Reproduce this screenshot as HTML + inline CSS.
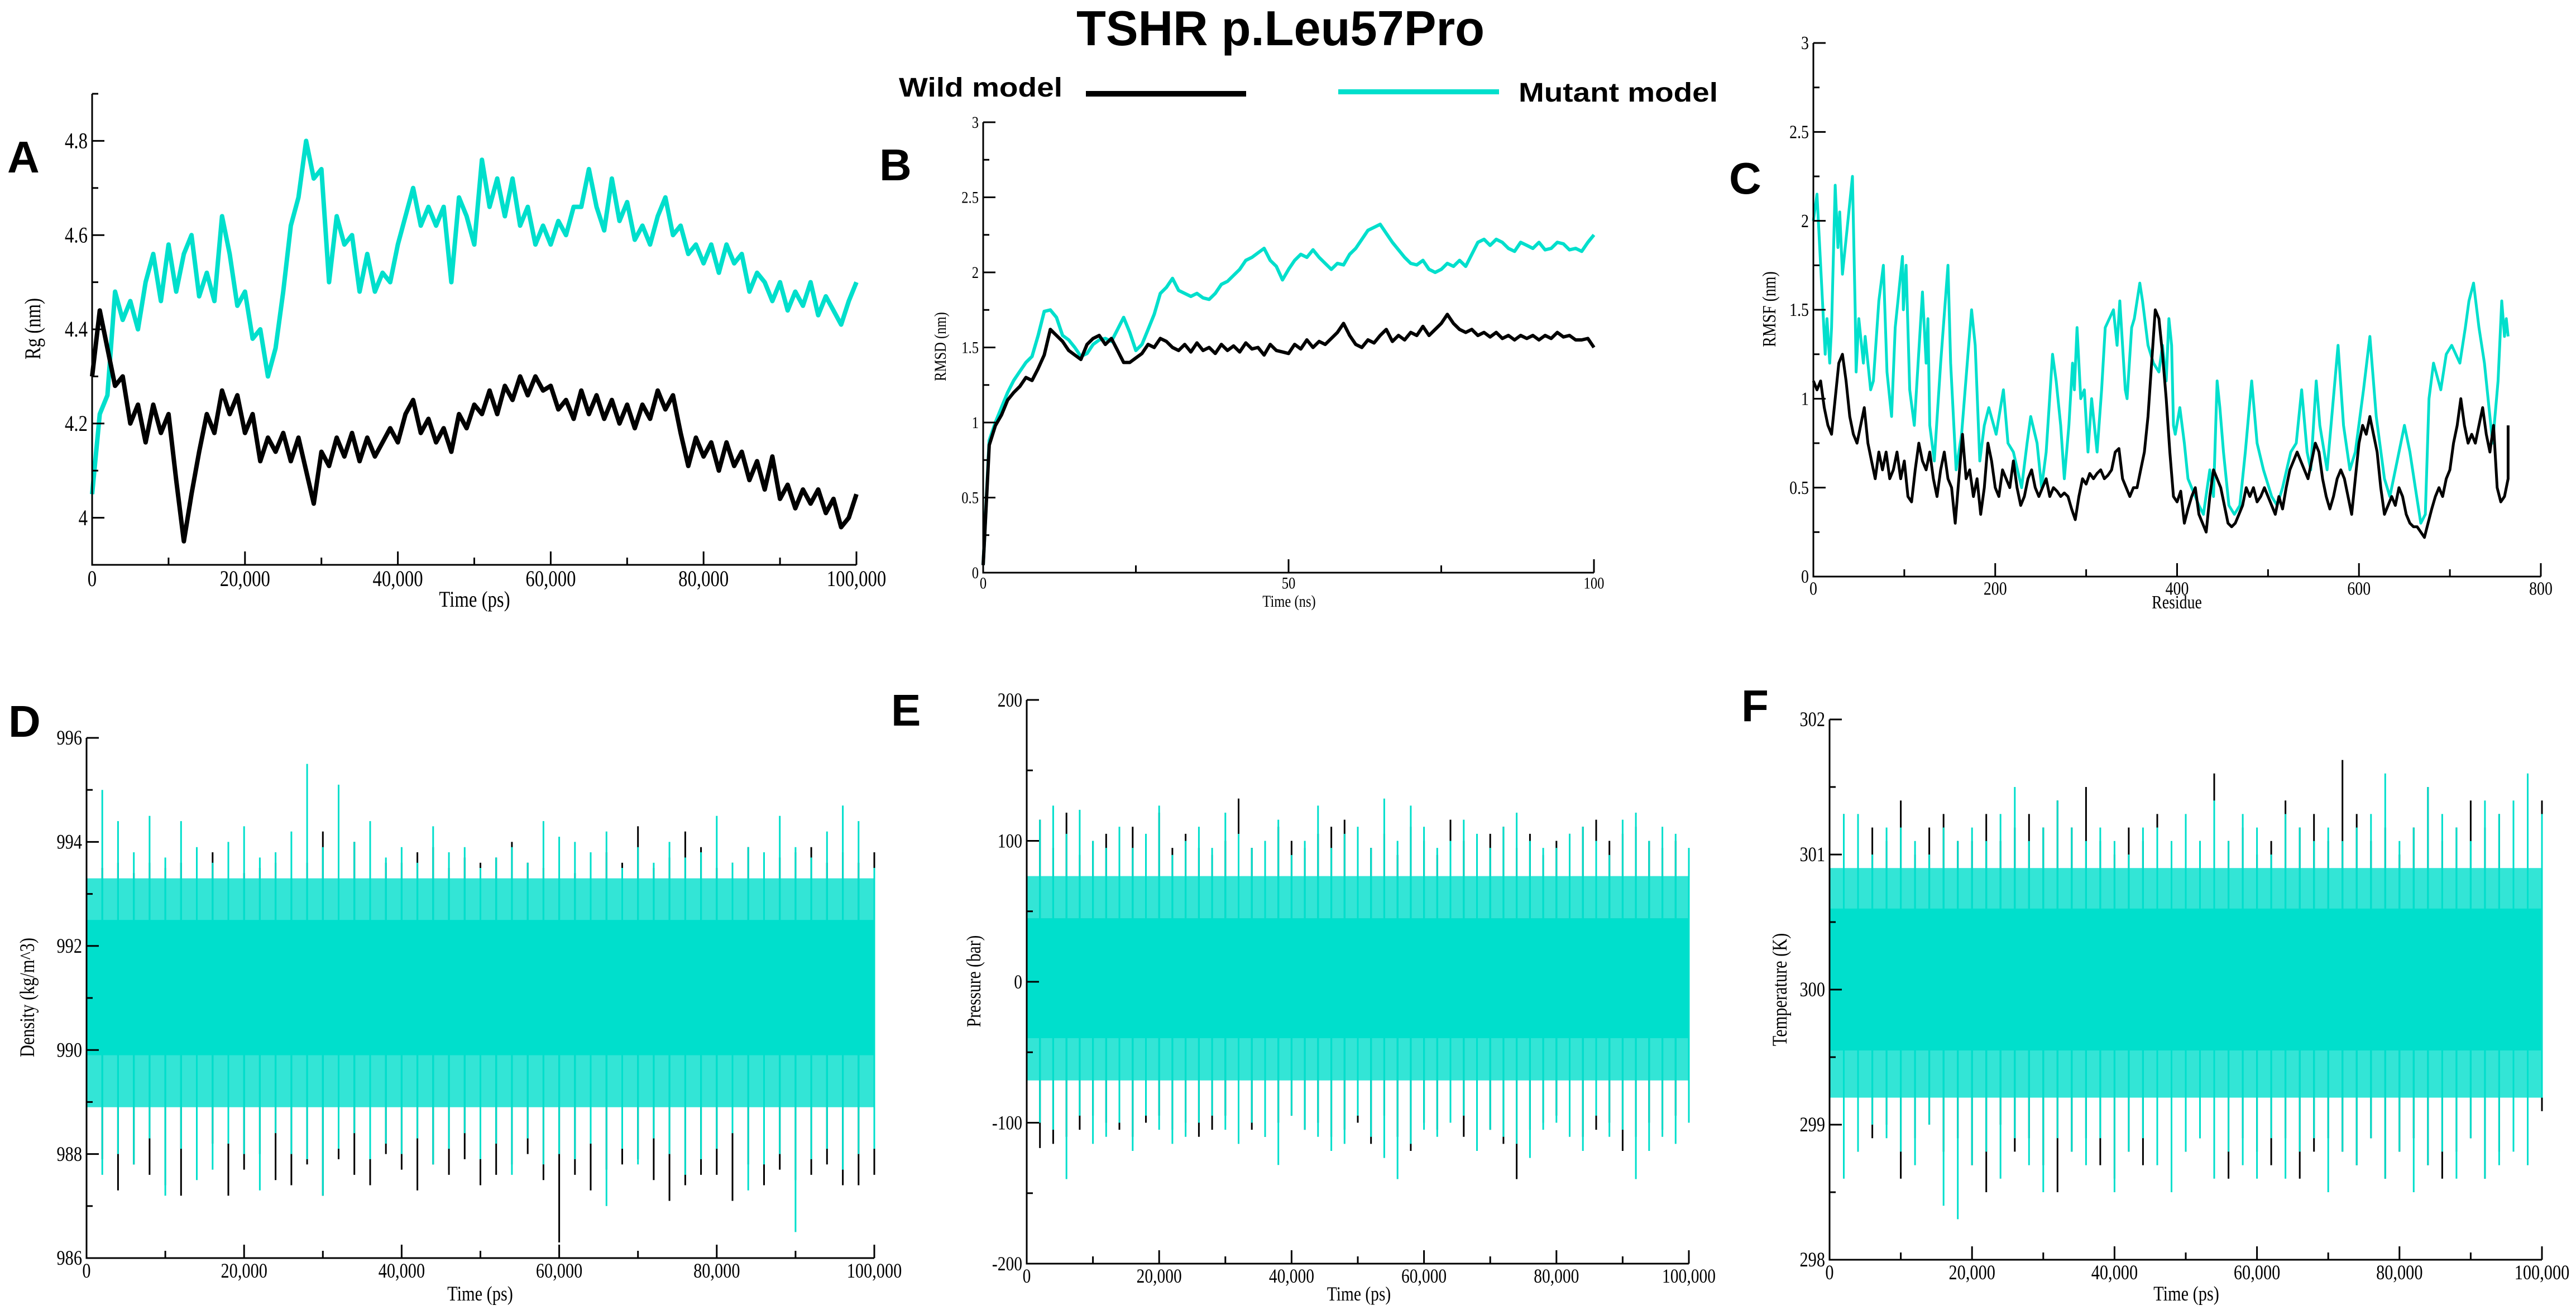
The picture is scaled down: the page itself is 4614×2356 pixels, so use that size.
<!DOCTYPE html>
<html><head><meta charset="utf-8"><title>TSHR p.Leu57Pro</title>
<style>
html,body{margin:0;padding:0;background:#fff;}
svg{display:block;}
.tk{font-family:"Liberation Serif",serif;fill:#000;}
.hd{font-family:"Liberation Sans Narrow","Liberation Sans",sans-serif;font-weight:bold;fill:#000;}
.pl{font-family:"Liberation Sans",sans-serif;font-weight:bold;fill:#000;}
</style></head>
<body>
<svg id="fig" xmlns="http://www.w3.org/2000/svg" width="4614" height="2356" viewBox="0 0 4614 2356">
<rect x="0" y="0" width="4614" height="2356" fill="#fff"/>
<text class="hd" x="1928" y="81" font-size="88" textLength="731" lengthAdjust="spacingAndGlyphs">TSHR p.Leu57Pro</text>
<g>
<text class="hd" x="1610" y="173" font-size="48" textLength="293" lengthAdjust="spacingAndGlyphs">Wild model</text>
<rect x="1945" y="163" width="287" height="10" fill="#000"/>
<rect x="2397" y="160" width="288" height="9" fill="#00dfcc"/>
<text class="hd" x="2720" y="182" font-size="48" textLength="357" lengthAdjust="spacingAndGlyphs">Mutant model</text>
</g>
<text class="pl" x="13" y="309" font-size="80">A</text>
<text class="pl" x="1575" y="323" font-size="80">B</text>
<text class="pl" x="3097" y="347" font-size="80">C</text>
<text class="pl" x="15" y="1320" font-size="80">D</text>
<text class="pl" x="1596" y="1300" font-size="80">E</text>
<text class="pl" x="3119" y="1292" font-size="80">F</text>
</svg>
<script>
// ---------- Panel A: Rg (nm) vs time (ps), sampled every 1000 ps ----------
const rgTimeStep = 1000;
const rgWild = [4.30,4.44,4.36,4.28,4.30,4.20,4.24,4.16,4.24,4.18,4.22,4.08,3.95,4.05,4.14,4.22,4.18,4.27,4.22,4.26,4.18,4.22,4.12,4.17,4.14,4.18,4.12,4.17,4.10,4.03,4.14,4.11,4.17,4.13,4.18,4.12,4.17,4.13,4.16,4.19,4.16,4.22,4.25,4.18,4.21,4.16,4.19,4.14,4.22,4.19,4.24,4.22,4.27,4.22,4.28,4.25,4.30,4.26,4.30,4.27,4.28,4.23,4.25,4.21,4.27,4.22,4.26,4.21,4.25,4.20,4.24,4.19,4.24,4.21,4.27,4.23,4.26,4.18,4.11,4.17,4.13,4.16,4.10,4.16,4.11,4.14,4.08,4.12,4.06,4.13,4.04,4.07,4.02,4.06,4.03,4.06,4.01,4.04,3.98,4.00,4.05];
const rgMutant = [4.05,4.22,4.26,4.48,4.42,4.46,4.40,4.50,4.56,4.46,4.58,4.48,4.56,4.60,4.47,4.52,4.46,4.64,4.56,4.45,4.48,4.38,4.40,4.30,4.36,4.48,4.62,4.68,4.80,4.72,4.74,4.50,4.64,4.58,4.60,4.48,4.56,4.48,4.52,4.50,4.58,4.64,4.70,4.62,4.66,4.62,4.66,4.50,4.68,4.64,4.58,4.76,4.66,4.72,4.64,4.72,4.62,4.66,4.58,4.62,4.58,4.63,4.60,4.66,4.66,4.74,4.66,4.61,4.72,4.63,4.67,4.59,4.62,4.58,4.64,4.68,4.60,4.62,4.56,4.58,4.54,4.58,4.52,4.58,4.54,4.56,4.48,4.52,4.50,4.46,4.50,4.44,4.48,4.45,4.50,4.43,4.47,4.44,4.41,4.46,4.50];

// ---------- Panel B: RMSD (nm) vs time (ns), sampled every 1 ns ----------
const rmsdTimeStep = 1;
const rmsdWild = [0.05,0.85,0.98,1.05,1.15,1.20,1.24,1.30,1.28,1.36,1.45,1.62,1.58,1.54,1.48,1.45,1.42,1.52,1.56,1.58,1.52,1.56,1.48,1.40,1.40,1.43,1.46,1.52,1.50,1.56,1.54,1.50,1.48,1.52,1.47,1.53,1.48,1.50,1.46,1.52,1.48,1.51,1.47,1.53,1.49,1.50,1.45,1.52,1.48,1.47,1.46,1.52,1.49,1.55,1.50,1.54,1.52,1.56,1.60,1.66,1.58,1.52,1.50,1.55,1.53,1.58,1.62,1.54,1.58,1.55,1.60,1.58,1.64,1.58,1.62,1.66,1.72,1.66,1.62,1.60,1.62,1.58,1.60,1.57,1.60,1.56,1.58,1.55,1.58,1.56,1.58,1.55,1.58,1.56,1.60,1.57,1.58,1.55,1.55,1.56,1.50];
const rmsdMutant = [0.05,0.88,1.00,1.10,1.20,1.28,1.34,1.40,1.44,1.58,1.74,1.75,1.70,1.58,1.55,1.50,1.44,1.46,1.52,1.55,1.56,1.54,1.62,1.70,1.60,1.48,1.52,1.62,1.72,1.86,1.90,1.96,1.88,1.86,1.84,1.86,1.83,1.82,1.86,1.92,1.94,1.98,2.02,2.08,2.10,2.13,2.16,2.08,2.04,1.95,2.02,2.08,2.12,2.10,2.15,2.10,2.06,2.02,2.06,2.05,2.12,2.16,2.22,2.28,2.30,2.32,2.26,2.20,2.15,2.10,2.06,2.05,2.08,2.02,2.00,2.02,2.06,2.04,2.08,2.04,2.12,2.20,2.22,2.18,2.22,2.20,2.16,2.14,2.20,2.18,2.16,2.20,2.15,2.16,2.20,2.19,2.15,2.16,2.14,2.20,2.25];

// ---------- Panel C: RMSF (nm) vs residue ----------
const rmsfWildStep = 4;
const rmsfWild = [1.10,1.05,1.10,0.95,0.85,0.80,1.00,1.20,1.25,1.10,0.90,0.80,0.75,0.85,0.95,0.75,0.65,0.55,0.70,0.60,0.70,0.55,0.60,0.70,0.55,0.65,0.45,0.42,0.60,0.75,0.65,0.60,0.70,0.55,0.45,0.60,0.70,0.55,0.50,0.30,0.55,0.80,0.55,0.60,0.45,0.55,0.35,0.50,0.75,0.65,0.50,0.45,0.60,0.55,0.50,0.65,0.50,0.40,0.45,0.55,0.60,0.50,0.45,0.50,0.55,0.45,0.50,0.48,0.45,0.47,0.45,0.38,0.32,0.45,0.55,0.52,0.58,0.55,0.58,0.60,0.55,0.57,0.60,0.70,0.72,0.55,0.50,0.45,0.50,0.50,0.60,0.70,0.90,1.20,1.50,1.45,1.25,1.00,0.70,0.45,0.42,0.48,0.30,0.38,0.45,0.50,0.35,0.30,0.25,0.45,0.60,0.55,0.50,0.40,0.30,0.28,0.30,0.35,0.40,0.50,0.45,0.50,0.42,0.45,0.50,0.45,0.40,0.35,0.45,0.38,0.50,0.60,0.65,0.70,0.65,0.60,0.55,0.65,0.75,0.70,0.55,0.45,0.38,0.45,0.55,0.60,0.55,0.45,0.35,0.55,0.75,0.85,0.80,0.90,0.80,0.70,0.50,0.35,0.40,0.45,0.40,0.50,0.45,0.35,0.30,0.28,0.28,0.25,0.22,0.30,0.38,0.45,0.50,0.45,0.55,0.60,0.75,0.85,1.00,0.85,0.75,0.80,0.75,0.85,0.95,0.80,0.70,0.85,0.50,0.42,0.45,0.55,0.85];
const rmsfMutantResidues = [0,4,13,15,18,20,24,27,29,32,37,43,46,47,50,55,57,63,66,72,77,81,86,90,98,99,102,106,111,120,124,126,128,133,140,148,151,157,163,170,174,178,183,188,193,201,209,214,220,229,235,239,246,251,256,263,267,272,276,281,285,287,290,294,298,302,306,312,317,321,330,334,337,343,345,350,353,359,362,368,374,380,384,388,391,394,396,398,403,408,412,424,429,436,440,444,447,451,457,463,469,475,482,488,495,504,510,516,525,531,537,543,547,553,557,565,577,583,590,596,605,612,619,628,634,642,650,656,662,668,673,677,682,690,696,702,711,717,721,726,732,738,744,747,753,757,760,762,764];
const rmsfMutant = [2.00,2.15,1.25,1.45,1.20,1.40,2.20,1.85,2.05,1.70,1.95,2.25,1.50,1.15,1.45,1.20,1.35,1.05,1.10,1.55,1.75,1.15,0.90,1.40,1.80,1.50,1.75,1.05,0.85,1.60,1.20,1.45,0.85,0.65,1.20,1.75,1.20,0.60,0.80,1.25,1.50,1.30,0.65,0.85,0.95,0.80,1.05,0.75,0.70,0.50,0.75,0.90,0.75,0.50,0.70,1.25,1.10,0.85,0.55,0.85,1.20,1.05,1.40,1.00,1.05,0.70,1.00,0.70,1.05,1.40,1.50,1.30,1.55,1.05,1.00,1.40,1.45,1.65,1.55,1.30,1.20,1.15,1.30,1.10,1.45,1.30,0.85,0.80,0.95,0.75,0.55,0.40,0.35,0.60,0.45,1.10,0.95,0.70,0.40,0.35,0.40,0.70,1.10,0.75,0.60,0.45,0.40,0.50,0.70,0.75,1.05,0.70,0.60,1.10,0.85,0.60,1.30,0.85,0.60,0.70,1.05,1.35,0.90,0.55,0.45,0.65,0.85,0.70,0.50,0.30,0.35,1.00,1.20,1.05,1.25,1.30,1.20,1.40,1.55,1.65,1.40,1.20,0.90,0.75,1.10,1.55,1.35,1.45,1.35];

// ---------- Panels D-F: dense traces, extremes per 2000 ps window + core & fringe bands ----------
const denseTimeStep = 2000;
const densMutantHi = [993.6,995.0,994.4,993.8,994.5,993.7,994.4,993.9,993.6,994.0,994.3,993.7,993.8,994.2,995.5,993.9,995.1,994.0,994.4,993.7,993.9,993.6,994.3,993.8,993.9,993.5,993.7,993.9,993.6,994.4,994.1,994.0,993.8,994.2,993.5,993.9,993.6,994.0,993.7,993.8,994.5,993.6,993.9,993.8,994.5,993.9,993.7,994.2,994.7,994.4,993.5];
const densMutantLo = [986.9,987.6,988.0,987.8,988.3,987.2,988.1,987.5,987.7,988.2,988.0,987.3,988.4,988.0,987.9,987.2,988.1,988.4,987.9,988.2,988.0,988.3,987.8,988.1,988.4,987.9,988.2,987.6,988.3,987.8,988.0,987.9,988.2,987.0,988.1,987.8,988.3,988.0,987.6,987.9,988.1,988.4,987.3,987.8,988.0,986.5,987.9,988.1,987.7,988.0,988.1];
const densWildHi = [993.7,993.5,993.6,993.4,993.6,993.5,993.6,993.3,993.8,993.7,993.4,993.5,993.6,993.3,993.6,994.2,993.5,994.0,993.7,993.6,993.6,993.8,993.9,993.5,993.7,993.6,993.7,994.0,993.6,993.5,993.3,993.4,993.5,993.8,993.6,994.3,993.5,993.7,994.2,993.9,993.5,993.6,993.9,993.5,993.7,993.8,993.9,993.6,993.8,993.6,993.8];
const densWildLo = [987.4,987.9,987.3,987.8,987.6,987.4,987.2,987.9,988.2,987.2,987.7,988.0,987.5,987.4,987.8,987.2,987.9,987.6,987.4,988.0,987.7,987.3,987.8,987.6,987.9,987.4,987.6,987.8,988.0,987.5,986.3,987.6,987.3,987.7,987.8,987.9,987.5,987.1,987.4,987.6,987.6,987.1,987.8,987.4,987.7,987.5,987.6,987.8,987.4,987.4,987.6];
const densWildCore = [989.9,992.4];
const densMutantCore = [989.9,992.5];
const densWildFringe = [988.9,993.2];
const densMutantFringe = [988.9,993.3];

const presMutantHi = [85,115,125,105,122,100,95,110,95,105,125,90,100,110,95,120,105,95,100,115,90,100,125,95,105,110,95,130,100,125,110,95,100,115,105,95,110,120,100,95,95,105,110,100,90,115,120,100,110,105,95];
const presMutantLo = [-110,-100,-105,-140,-95,-115,-110,-100,-120,-95,-105,-115,-110,-100,-95,-105,-115,-100,-110,-130,-95,-105,-110,-120,-115,-95,-110,-125,-140,-115,-105,-110,-100,-95,-120,-105,-110,-115,-125,-105,-100,-110,-120,-95,-110,-105,-140,-120,-110,-115,-100];
const presWildHi = [100,115,95,120,90,100,105,95,110,100,120,95,105,95,90,100,130,95,100,110,100,95,105,110,115,100,95,105,90,110,100,90,115,100,95,105,110,95,105,90,100,105,110,115,100,105,110,100,95,100,90];
const presWildLo = [-95,-118,-115,-110,-105,-95,-100,-105,-110,-100,-95,-105,-100,-110,-105,-95,-100,-105,-110,-100,-95,-105,-100,-110,-105,-100,-115,-95,-110,-120,-100,-105,-95,-110,-100,-105,-115,-140,-105,-100,-95,-100,-110,-105,-100,-120,-110,-100,-105,-95,-90];
const presWildCore = [-40,45];
const presMutantCore = [-40,45];
const presWildFringe = [-70,75];
const presMutantFringe = [-70,75];

const tempMutantHi = [301.2,301.3,301.3,301.0,301.2,301.2,301.1,301.0,301.2,301.1,301.2,301.1,301.3,301.5,301.1,301.2,301.4,301.2,301.1,301.2,301.1,301.0,301.2,301.2,301.1,301.3,301.1,301.4,301.1,301.3,301.2,301.0,301.3,301.2,301.1,301.2,301.1,301.2,301.3,301.6,301.1,301.2,301.5,301.3,301.2,301.1,301.4,301.3,301.4,301.6,301.3];
const tempMutantLo = [298.9,298.6,298.8,299.0,298.9,298.8,298.7,299.0,298.4,298.3,298.7,298.8,298.6,298.9,298.7,298.5,298.9,298.8,298.7,298.9,298.5,298.8,298.9,298.7,298.5,298.8,298.9,298.6,298.8,298.7,298.6,298.9,298.6,298.8,298.9,298.5,298.8,298.7,298.9,298.6,298.8,298.5,298.7,298.8,298.6,298.9,298.6,298.7,298.8,298.7,299.2];
const tempWildHi = [301.0,301.3,301.0,301.2,301.1,301.4,301.0,301.2,301.3,301.1,301.1,301.3,301.1,301.2,301.3,301.2,301.4,301.2,301.5,301.1,301.0,301.2,301.1,301.3,301.0,301.2,301.1,301.6,301.1,301.2,301.0,301.1,301.4,301.2,301.3,301.1,301.7,301.3,301.1,301.2,301.0,301.2,301.5,301.1,301.2,301.4,301.2,301.3,301.3,301.2,301.4];
const tempWildLo = [299.1,298.7,298.8,298.9,299.0,298.6,298.9,299.0,298.8,298.9,298.7,298.5,299.0,298.8,298.9,298.7,298.5,298.8,298.9,298.7,298.6,298.8,298.7,298.9,299.0,298.8,298.9,298.7,298.6,298.9,298.8,298.7,298.9,298.6,298.8,298.9,298.8,298.7,298.9,298.6,298.8,298.9,298.7,298.6,298.8,298.9,298.6,298.8,298.9,298.8,299.1];
const tempWildCore = [299.55,300.55];
const tempMutantCore = [299.55,300.6];
const tempWildFringe = [299.2,300.9];
const tempMutantFringe = [299.2,300.9];

const timeTickLabels = ["0","20,000","40,000","60,000","80,000","100,000"];

const NS = "http://www.w3.org/2000/svg";
const svg = document.getElementById("fig");
const CYAN = "#00dfcc";

function mk(tag, attrs, parent) {
  const e = document.createElementNS(NS, tag);
  for (const k in attrs) e.setAttribute(k, attrs[k]);
  (parent || svg).appendChild(e);
  return e;
}
function txt(parent, s, x, y, size, anchor, rot) {
  const t = mk("text", {class: "tk", "font-size": size, "text-anchor": anchor,
    transform: "translate(" + x + "," + y + ")" + (rot ? " rotate(-90)" : "") + " scale(0.82,1)"}, parent);
  t.textContent = s;
  return t;
}

function makePanel(cfg) {
  const g = mk("g", {});
  
  
  const sx = v => cfg.x0 + (v - cfg.xmin) / (cfg.xmax - cfg.xmin) * (cfg.x1 - cfg.x0);
  const sy = v => cfg.yb - (v - cfg.ymin) / (cfg.ymax - cfg.ymin) * (cfg.yb - cfg.yt);
  const data = mk("g", {}, g);
  
  
  const ax = mk("g", {}, g);
  
  
  const yaxis = mk("line", {x1: cfg.x0, y1: cfg.yt, x2: cfg.x0, y2: cfg.yb, stroke: "#000", "stroke-width": 3}, ax);
  
  
  const xaxis = mk("line", {x1: cfg.x0 - 1.5, y1: cfg.yb, x2: cfg.x1, y2: cfg.yb, stroke: "#000", "stroke-width": 3}, ax);
  
  
  const fs = cfg.fs;
  const ny = Math.round((cfg.ymax - cfg.ymin) / cfg.yMinor);
  for (let i = 0; i <= ny; i++) {
    const v = cfg.ymin + i * cfg.yMinor;
    const r = (v - cfg.yMajorStart) / cfg.yMajor;
    const isMaj = Math.abs(r - Math.round(r)) < 1e-6;
    const y = sy(v);
    mk("line", {x1: cfg.x0, y1: y, x2: cfg.x0 + (isMaj ? 22 : 11), y2: y, stroke: "#000", "stroke-width": 3}, ax);
    if (isMaj) {
      const lbl = txt(ax, cfg.yfmt(v), cfg.x0 - 8, y + fs * 0.33, fs, "end");
      
      
    }
  }
  const nx = Math.round((cfg.xmax - cfg.xmin) / cfg.xMinor);
  for (let i = 0; i <= nx; i++) {
    const v = cfg.xmin + i * cfg.xMinor;
    const isMaj = Math.abs((v / cfg.xMajor) - Math.round(v / cfg.xMajor)) < 1e-6;
    const x = sx(v);
    mk("line", {x1: x, y1: cfg.yb, x2: x, y2: cfg.yb - (isMaj ? 24 : 13), stroke: "#000", "stroke-width": 3}, ax);
    if (isMaj) {
      const lbl = txt(ax, cfg.xLabels[Math.round(v / cfg.xMajor)], x, cfg.yb + fs * 0.95, fs, "middle");
      
      
    }
  }
  const xt = txt(ax, cfg.xtitle, cfg.xtx, cfg.xty, fs, "middle");
  
  
  const yt = txt(ax, cfg.ytitle, cfg.ytx, cfg.yty, fs, "middle", true);
  
  
  return {g: data, sx, sy};
}

function drawLine(p, xs, ys, color, w, name) {
  let d = "";
  for (let i = 0; i < ys.length; i++) d += (i ? "L" : "M") + p.sx(xs[i]).toFixed(1) + "," + p.sy(ys[i]).toFixed(1);
  const path = mk("path", {d: d, fill: "none", stroke: color, "stroke-width": w, "stroke-linejoin": "round"}, p.g);
  
  
}

function drawDense(p, step, hi, lo, core, fringe, color, fringeOpacity, name) {
  const grp = mk("g", {}, p.g);
  
  
  const xMaxV = (hi.length - 1) * step;
  const x0 = p.sx(0), w = p.sx(xMaxV) - p.sx(0);
  let d = "";
  for (let i = 0; i < hi.length; i++) {
    const x = p.sx(i * step);
    d += "M" + x.toFixed(1) + "," + p.sy(lo[i]).toFixed(1) + "L" + x.toFixed(1) + "," + p.sy(hi[i]).toFixed(1);
  }
  const spikes = mk("path", {d: d, fill: "none", stroke: color, "stroke-width": 3}, grp);
  
  
  const fr = mk("rect", {x: x0, y: p.sy(fringe[1]), width: w, height: p.sy(fringe[0]) - p.sy(fringe[1]), fill: color, "fill-opacity": fringeOpacity}, grp);
  
  
  const band = mk("rect", {x: x0, y: p.sy(core[1]), width: w, height: p.sy(core[0]) - p.sy(core[1]), fill: color}, grp);
  
  
}

const f1 = v => (Math.round(v * 10) / 10).toString();
const fInt = v => Math.round(v).toString();

// Panel A
const pA = makePanel({name: "panel-a-rg", x0: 165, x1: 1534, yt: 168, yb: 1012, xmin: 0, xmax: 100000, ymin: 3.9, ymax: 4.9,
  xMajor: 20000, xMinor: 10000, yMajor: 0.2, yMinor: 0.1, yMajorStart: 4.0, fs: 40, xLabels: timeTickLabels,
  yfmt: f1, xtitle: "Time (ps)", xtx: 850, xty: 1087, ytitle: "Rg (nm)", ytx: 72, yty: 589});
const rgX = rgWild.map((_, i) => i * rgTimeStep);
drawLine(pA, rgX, rgMutant, CYAN, 8, "rg-mutant-line");
drawLine(pA, rgX, rgWild, "#000", 8, "rg-wild-line");

// Panel B
const pB = makePanel({name: "panel-b-rmsd", x0: 1761, x1: 2855, yt: 219, yb: 1026, xmin: 0, xmax: 100, ymin: 0, ymax: 3,
  xMajor: 50, xMinor: 25, yMajor: 0.5, yMinor: 0.25, yMajorStart: 0, fs: 30, xLabels: ["0","50","100"],
  yfmt: f1, xtitle: "Time (ns)", xtx: 2309, xty: 1087, ytitle: "RMSD (nm)", ytx: 1694, yty: 621});
const rmsdX = rmsdWild.map((_, i) => i * rmsdTimeStep);
drawLine(pB, rmsdX, rmsdMutant, CYAN, 6, "rmsd-mutant-line");
drawLine(pB, rmsdX, rmsdWild, "#000", 6, "rmsd-wild-line");

// Panel C
const pC = makePanel({name: "panel-c-rmsf", x0: 3248, x1: 4551, yt: 77, yb: 1033, xmin: 0, xmax: 800, ymin: 0, ymax: 3,
  xMajor: 200, xMinor: 100, yMajor: 0.5, yMinor: 0.25, yMajorStart: 0, fs: 34, xLabels: ["0","200","400","600","800"],
  yfmt: f1, xtitle: "Residue", xtx: 3899, xty: 1090, ytitle: "RMSF (nm)", ytx: 3180, yty: 554});
drawLine(pC, rmsfMutantResidues, rmsfMutant, CYAN, 5, "rmsf-mutant-line");
const rmsfWildX = rmsfWild.map((_, i) => Math.min(i * rmsfWildStep, 764));
drawLine(pC, rmsfWildX, rmsfWild, "#000", 5, "rmsf-wild-line");

// Panel D
const pD = makePanel({name: "panel-d-density", x0: 155, x1: 1566, yt: 1322, yb: 2254, xmin: 0, xmax: 100000, ymin: 986, ymax: 996,
  xMajor: 20000, xMinor: 10000, yMajor: 2, yMinor: 1, yMajorStart: 986, fs: 37, xLabels: timeTickLabels,
  yfmt: fInt, xtitle: "Time (ps)", xtx: 860, xty: 2330, ytitle: "Density (kg/m^3)", ytx: 61, yty: 1787});
drawDense(pD, denseTimeStep, densWildHi, densWildLo, densWildCore, densWildFringe, "#000", 0, "density-wild-trace");
drawDense(pD, denseTimeStep, densMutantHi, densMutantLo, densMutantCore, densMutantFringe, CYAN, 0.8, "density-mutant-trace");

// Panel E
const pE = makePanel({name: "panel-e-pressure", x0: 1839, x1: 3025, yt: 1254, yb: 2264, xmin: 0, xmax: 100000, ymin: -200, ymax: 200,
  xMajor: 20000, xMinor: 10000, yMajor: 100, yMinor: 50, yMajorStart: -200, fs: 36, xLabels: timeTickLabels,
  yfmt: fInt, xtitle: "Time (ps)", xtx: 2434, xty: 2330, ytitle: "Pressure (bar)", ytx: 1756, yty: 1758});
drawDense(pE, denseTimeStep, presWildHi, presWildLo, presWildCore, presWildFringe, "#000", 0, "pressure-wild-trace");
drawDense(pE, denseTimeStep, presMutantHi, presMutantLo, presMutantCore, presMutantFringe, CYAN, 0.8, "pressure-mutant-trace");

// Panel F
const pF = makePanel({name: "panel-f-temperature", x0: 3277, x1: 4553, yt: 1289, yb: 2257, xmin: 0, xmax: 100000, ymin: 298, ymax: 302,
  xMajor: 20000, xMinor: 10000, yMajor: 1, yMinor: 0.5, yMajorStart: 298, fs: 37, xLabels: timeTickLabels,
  yfmt: fInt, xtitle: "Time (ps)", xtx: 3916, xty: 2330, ytitle: "Temperature (K)", ytx: 3200, yty: 1773});
drawDense(pF, denseTimeStep, tempWildHi, tempWildLo, tempWildCore, tempWildFringe, "#000", 0, "temperature-wild-trace");
drawDense(pF, denseTimeStep, tempMutantHi, tempMutantLo, tempMutantCore, tempMutantFringe, CYAN, 0.8, "temperature-mutant-trace");
</script>
</body></html>
